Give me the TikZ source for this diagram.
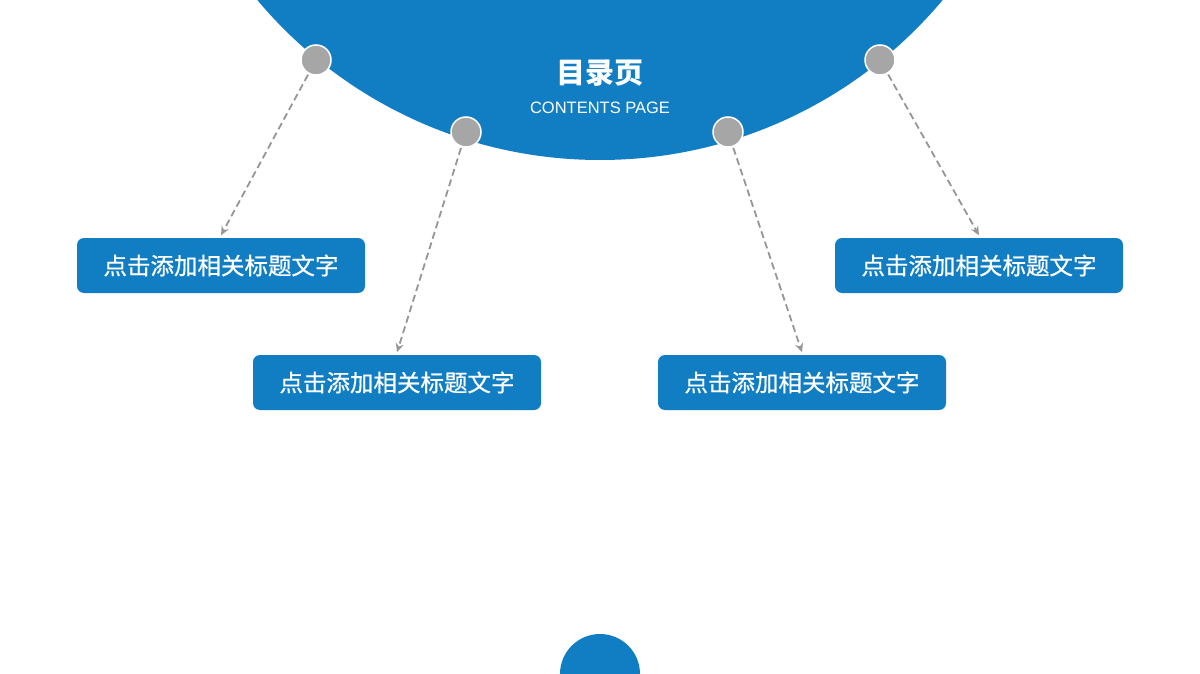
\documentclass[tikz,border=0pt]{standalone}
\usepackage{fontspec}
\setmainfont{Liberation Sans}
\newfontfamily\cjk{Noto Sans CJK SC}
\newfontfamily\cjkmid[FakeBold=0.6]{Noto Sans CJK SC}
\usepackage{xcolor}
\usepackage{tikz}
\usetikzlibrary{shapes,arrows,positioning,arrows.meta}
\definecolor{themeblue}{RGB}{17,126,196}
\definecolor{dotgray}{RGB}{166,166,166}
\definecolor{linegray}{RGB}{150,150,150}
\tikzstyle{dot} = [circle, fill=dotgray, draw=white, line width=1.5pt, minimum size=30pt, inner sep=0pt]
\tikzstyle{titlebox} = [rectangle, rounded corners=7pt, fill=themeblue, text=white, minimum width=288pt, minimum height=55pt, inner sep=0pt, font=\cjkmid\fontsize{23.5}{26}\selectfont]
\tikzstyle{link} = [-{Stealth[length=9pt,width=8pt,inset=3pt]}, linegray, line width=1.8pt, dash pattern=on 7pt off 4pt, shorten <=1pt]

\begin{document}
\begin{tikzpicture}[x=1pt, y=-1pt]
    \clip (0,0) rectangle (1200,674);
    \fill[white] (0,0) rectangle (1200,674);

    % Big half circle and heading
    \fill[themeblue] (600,-287) circle[radius=447pt];
    \node[text=white, font=\cjk\bfseries\fontsize{29}{31}\selectfont] (head) at (600,73) {目录页};
    \node[text=white, font=\fontsize{16.5}{18}\selectfont] (sub) at (600,108) {CONTENTS PAGE};

    % Small circle at the bottom
    \fill[themeblue] (600,674) circle[radius=40pt];

    % Dots on the rim
    \node[dot] (d1) at (316,60) {};
    \node[dot] (d2) at (466,132) {};
    \node[dot] (d3) at (728,132) {};
    \node[dot] (d4) at (880,60) {};

    % Title boxes
    \node[titlebox] (b1) at (221,265.5) {点击添加相关标题文字};
    \node[titlebox] (b2) at (397,382.5) {点击添加相关标题文字};
    \node[titlebox] (b3) at (802,382.5) {点击添加相关标题文字};
    \node[titlebox] (b4) at (979,265.5) {点击添加相关标题文字};

    % Links
    \draw[link] (d1) -- ([yshift=2.5pt]b1.north);
    \draw[link] (d2) -- ([yshift=2.5pt]b2.north);
    \draw[link] (d3) -- ([yshift=2.5pt]b3.north);
    \draw[link] (d4) -- ([yshift=2.5pt]b4.north);
\end{tikzpicture}
\end{document}
